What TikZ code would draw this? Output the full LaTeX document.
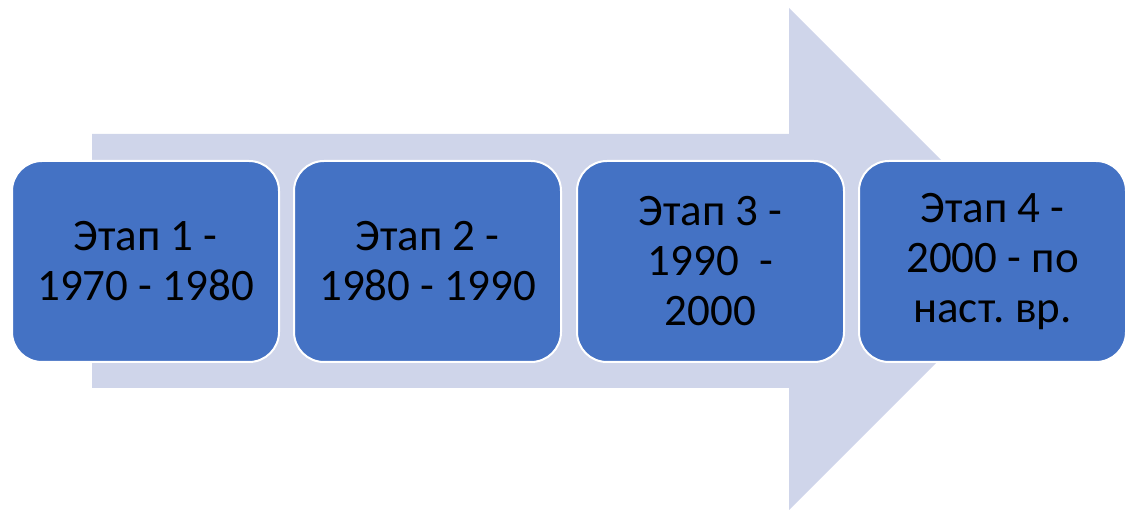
\documentclass[tikz,border=0pt]{standalone}
\usepackage{fontspec}
\setmainfont{Carlito}
\frenchspacing
\definecolor{arrowfill}{HTML}{CFD5EA}
\definecolor{boxfill}{HTML}{4472C4}
\begin{document}
\begin{tikzpicture}[x=1pt,y=-1pt,
  stage/.style={draw=white, line width=2pt, fill=boxfill, rounded corners=30pt,
    minimum width=267pt, minimum height=201pt, inner sep=0pt,
    align=center, text=black, font=\fontsize{45}{50}\selectfont, anchor=north west}]
\useasboundingbox (0,0) rectangle (1125,510);
\fill[arrowfill] (92,134) -- (789,134) -- (789,8) -- (1040,259) -- (789,510) -- (789,388) -- (92,388) -- cycle;
\node[stage] (s1) at (11,160) {Этап 1 -\\1970 - 1980};
\node[stage] (s2) at (293,160) {Этап 2 -\\1980 - 1990};
\node[stage] (s3) at (576,160) {Этап 3 -\\1990\ \ -\\2000};
\node[stage] (s4) at (858,160) {Этап 4 -\\2000 - по\\наст. вр.};
\end{tikzpicture}
\end{document}
